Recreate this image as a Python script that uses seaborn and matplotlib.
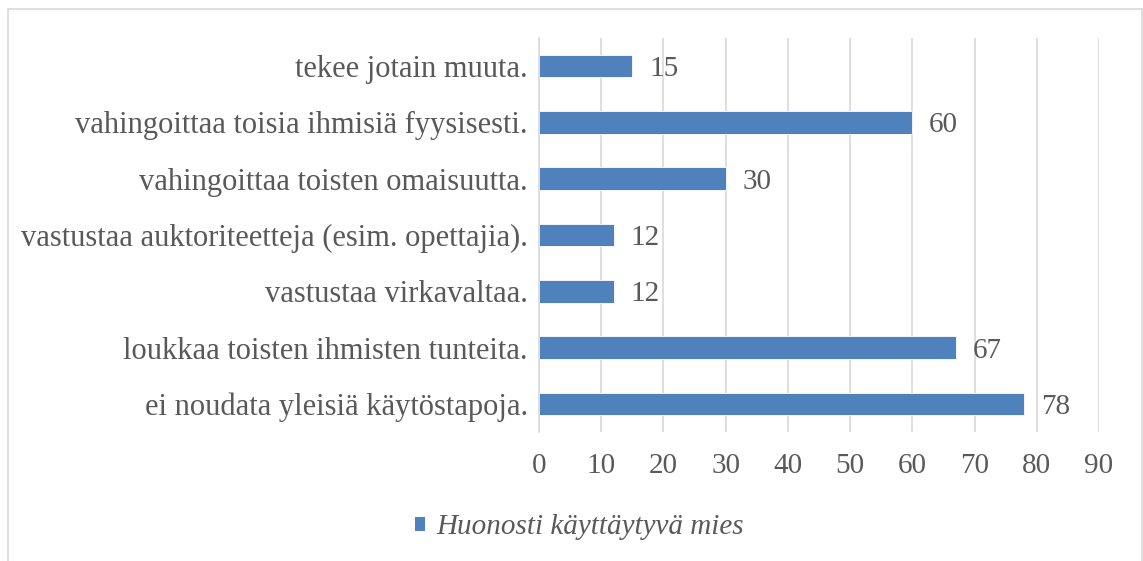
import pandas as pd
import matplotlib.pyplot as plt
import seaborn as sns
from matplotlib.patches import Patch, Rectangle

# data
categories = [
    "tekee jotain muuta.",
    "vahingoittaa toisia ihmisiä fyysisesti.",
    "vahingoittaa toisten omaisuutta.",
    "vastustaa auktoriteetteja (esim. opettajia).",
    "vastustaa virkavaltaa.",
    "loukkaa toisten ihmisten tunteita.",
    "ei noudata yleisiä käytöstapoja.",
]
values = [15, 60, 30, 12, 12, 67, 78]
series_name = "Huonosti käyttäytyvä mies"
x_ticks = [0, 10, 20, 30, 40, 50, 60, 70, 80, 90]

df = pd.DataFrame({"kategoria": categories, "arvo": values})

bar_color = "#4F81BD"
text_color = "#595959"
grid_color = "#D9D9D9"
fs = 21

sns.set_style("white")
plt.rcParams["font.family"] = "serif"
plt.rcParams["font.serif"] = ["Liberation Serif", "Times New Roman", "DejaVu Serif"]

fig = plt.figure(figsize=(11.43, 5.61), dpi=100)
ax = fig.add_axes([0.4716, 0.2299, 0.4899, 0.7024])

sns.barplot(data=df, x="arvo", y="kategoria", orient="h", color=bar_color,
            saturation=1, width=0.4, edgecolor="white", linewidth=0.6, ax=ax)

ax.set_xlim(0, 90)
ax.set_ylim(6.5, -0.5)
ax.set_xticks(x_ticks)
ax.set_xlabel("")
ax.set_ylabel("")
ax.grid(axis="x", color=grid_color, linewidth=1.2)
ax.set_axisbelow(True)
for s in ["top", "right", "bottom"]:
    ax.spines[s].set_visible(False)
ax.spines["left"].set_color(grid_color)
ax.spines["left"].set_linewidth(1.2)
ax.tick_params(axis="x", length=0, pad=15, labelsize=fs, labelcolor=text_color)
ax.tick_params(axis="y", length=0, pad=8, labelsize=22, labelcolor=text_color)

for c in ax.containers:
    labels = ax.bar_label(c, padding=12, fontsize=fs, color=text_color)
    for t in labels:
        t.set_verticalalignment("center_baseline")

handle = Patch(facecolor=bar_color, edgecolor="none")
fig.legend([handle], [series_name], loc="center", bbox_to_anchor=(0.507, 0.06),
           frameon=False, handlelength=0.36, handleheight=0.36, handletextpad=0.4,
           prop={"size": fs, "style": "italic"}, labelcolor=text_color)

# chart border
fig.patches.append(Rectangle((8 / 1143, -0.01), 1134 / 1143, 1 - 9 / 561 + 0.01,
                             transform=fig.transFigure, fill=False,
                             edgecolor=grid_color, linewidth=1.2))

fig.savefig("out.png", dpi=100)
plt.close(fig)
